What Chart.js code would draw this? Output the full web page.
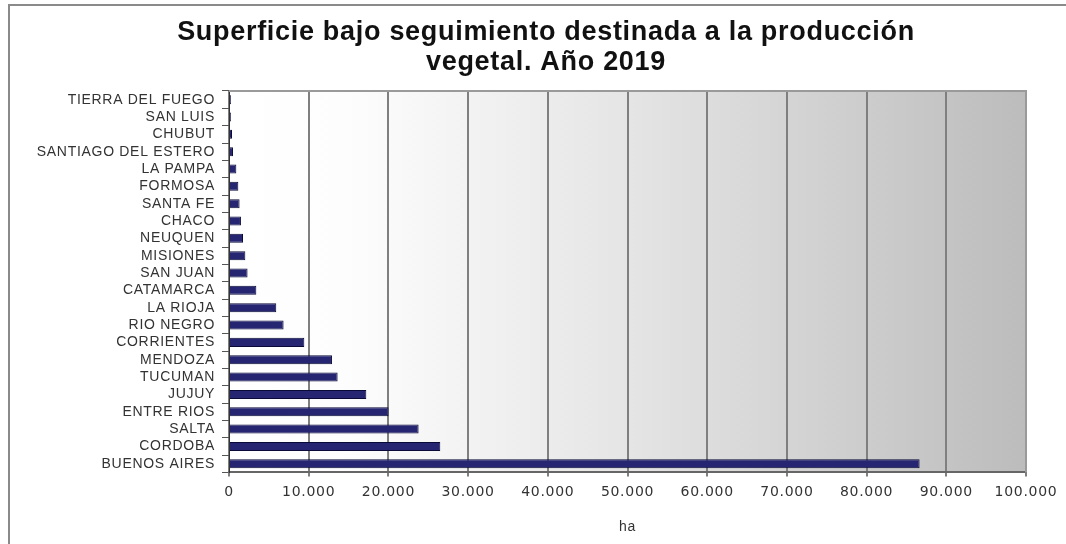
<!DOCTYPE html>
<html>
<head>
<meta charset="utf-8">
<script src="https://cdn.jsdelivr.net/npm/chart.js@4.4.1/dist/chart.umd.min.js"></script>
<style>
html,body{margin:0;padding:0;background:#fff;}
#wrap{width:1066px;height:544px;position:relative;}
</style>
</head>
<body>
<div id="wrap"><canvas id="c" width="1066" height="544"></canvas></div>
<script>
const titleLines = ["Superficie bajo seguimiento destinada a la producción", "vegetal. Año 2019"];
const provinces = ["TIERRA DEL FUEGO","SAN LUIS","CHUBUT","SANTIAGO DEL ESTERO","LA PAMPA","FORMOSA","SANTA FE","CHACO","NEUQUEN","MISIONES","SAN JUAN","CATAMARCA","LA RIOJA","RIO NEGRO","CORRIENTES","MENDOZA","TUCUMAN","JUJUY","ENTRE RIOS","SALTA","CORDOBA","BUENOS AIRES"];
const hectares = [250,250,380,500,920,1170,1330,1500,1760,2050,2330,3430,5930,6850,9450,12920,13630,17230,20020,23790,26510,86650];
const xMin = 0;
const xMax = 100000;
const xStep = 10000;
const xAxisTitle = "ha";

const bgPlugin = {
  id: 'bg',
  beforeDraw(chart){
    const ctx = chart.ctx, a = chart.chartArea;
    ctx.save();
    ctx.fillStyle = '#fff';
    ctx.fillRect(0,0,chart.width,chart.height);
    ctx.strokeStyle = '#8a8a8a';
    ctx.lineWidth = 2;
    ctx.beginPath();
    ctx.moveTo(9, chart.height);
    ctx.lineTo(9, 5);
    ctx.lineTo(chart.width, 5);
    ctx.stroke();
    const g = ctx.createLinearGradient(a.left,0,a.right,0);
    g.addColorStop(0,'#ffffff');
    g.addColorStop(0.15,'#fdfdfd');
    g.addColorStop(0.5,'#e5e5e5');
    g.addColorStop(1,'#bcbcbc');
    ctx.fillStyle = g;
    ctx.fillRect(a.left,a.top,a.right-a.left,a.bottom-a.top);
    ctx.restore();
    ctx.letterSpacing = '0.7px';
  },
  afterDatasetsDraw(chart){
    const ctx = chart.ctx, a = chart.chartArea;
    ctx.save();
    ctx.strokeStyle = '#9a9a9a';
    ctx.lineWidth = 2;
    ctx.beginPath();
    ctx.moveTo(a.left, a.top);
    ctx.lineTo(a.right, a.top);
    ctx.lineTo(a.right, a.bottom);
    ctx.stroke();
    ctx.restore();
  }
};

new Chart(document.getElementById('c'), {
  type: 'bar',
  data: {
    labels: provinces,
    datasets: [{
      data: hectares,
      backgroundColor: '#252572',
      borderColor: '#0a0a38',
      borderWidth: 1,
      barPercentage: 0.52,
      categoryPercentage: 1.0
    }]
  },
  options: {
    indexAxis: 'y',
    responsive: false,
    animation: false,
    devicePixelRatio: 1,
    layout: { padding: { left: 26, right: 0, top: 0, bottom: 8 } },
    plugins: {
      legend: { display: false },
      tooltip: { enabled: false },
      title: {
        display: true,
        text: titleLines,
        color: '#111',
        font: { family: 'Liberation Sans, Arial, sans-serif', size: 27, weight: 'bold', lineHeight: 1.111 },
        padding: { top: 18, bottom: 13 }
      }
    },
    scales: {
      x: {
        type: 'linear',
        min: xMin,
        max: xMax,
        afterFit(scale){ scale.paddingRight = 40; },
        ticks: {
          stepSize: xStep,
          color: '#333',
          padding: 8,
          font: { family: 'DejaVu Sans, sans-serif', size: 14 },
          callback: v => v === 0 ? '0' : v.toLocaleString('de-DE')
        },
        grid: { color: '#7f7f7f', lineWidth: 2, tickLength: 4, tickColor: '#7f7f7f' },
        border: { color: '#666', width: 2 },
        title: { display: true, text: xAxisTitle, color: '#333', font: { family: 'Liberation Sans, Arial, sans-serif', size: 14 }, padding: { top: 10, bottom: 0 } }
      },
      y: {
        afterFit(scale){ scale.width = 229 - 26; },
        ticks: {
          color: '#333',
          padding: 7,
          autoSkip: false,
          font: { family: 'Liberation Sans, Arial, sans-serif', size: 14 }
        },
        grid: { offset: true, drawOnChartArea: false, drawTicks: true, tickLength: 7, tickColor: '#555', lineWidth: 1 },
        border: { color: '#333', width: 1 }
      }
    }
  },
  plugins: [bgPlugin]
});
</script>
</body>
</html>
